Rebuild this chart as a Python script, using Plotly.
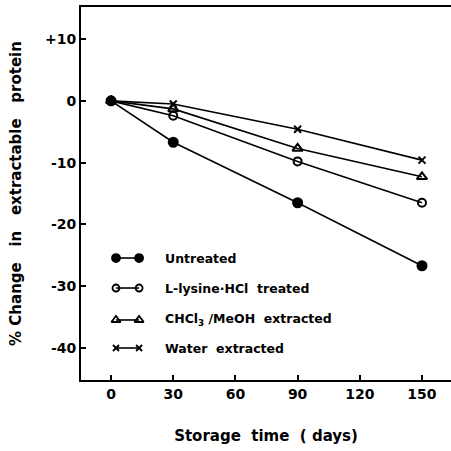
import plotly.graph_objects as go

# Storage days sampled and % change in extractable protein per treatment
days = [0, 30, 90, 150]
untreated = [0, -6.7, -16.5, -26.7]
lysine = [0, -2.4, -9.8, -16.5]
chcl3 = [0, -1.3, -7.7, -12.3]
water = [0, -0.5, -4.6, -9.6]

x_ticks = [0, 30, 60, 90, 120, 150]
y_ticks = [10, 0, -10, -20, -30, -40]
y_tick_text = ["+10", "0", "-10", "-20", "-30", "-40"]

SP = "\u00a0"
series = [
    ("Untreated", untreated, "circle", 9),
    (f"L-lysine·HCl{SP*2}treated", lysine, "circle-open", 8),
    (f"CHCl<sub>3</sub>{SP}/MeOH{SP*2}extracted", chcl3, "triangle-up-open", 9),
    (f"Water{SP*2}extracted", water, "x-thin-open", 7),
]

FONT = "DejaVu Sans"
fig = go.Figure()

for name, vals, sym, size in series:
    fig.add_trace(go.Scatter(
        x=days, y=vals, mode="lines+markers", name=name, showlegend=False,
        line=dict(color="black", width=1.6),
        marker=dict(symbol=sym, size=size, color="black",
                    line=dict(color="black", width=2)),
    ))

# Hand-drawn style key: marker–line–marker followed by the label
key_rows = [0.327, 0.2466, 0.1609, 0.0858]
key_x0, key_x1, key_text_x = 0.0946, 0.157, 0.2216
for (name, vals, sym, size), ky in zip(series, key_rows):
    fig.add_trace(go.Scatter(
        x=[key_x0, key_x1], y=[ky, ky], mode="lines+markers",
        xaxis="x2", yaxis="y2", showlegend=False, hoverinfo="skip",
        line=dict(color="black", width=1.6),
        marker=dict(symbol=sym, size=size - 1, color="black",
                    line=dict(color="black", width=1.8)),
    ))
    fig.add_annotation(x=key_text_x, y=ky, xref="x2", yref="y2", text=name,
                       showarrow=False, xanchor="left", yanchor="middle",
                       font=dict(family=FONT, size=12.5, color="black", weight="bold"))

fig.update_layout(
    width=451, height=451,
    margin=dict(l=81, r=0, t=7, b=71),
    paper_bgcolor="white", plot_bgcolor="white",
    font=dict(family=FONT, color="black"),
    xaxis=dict(
        range=[-14.5, 164], tickvals=x_ticks, ticktext=[str(v) for v in x_ticks],
        showgrid=False, zeroline=False, showline=True, mirror=True,
        linecolor="black", linewidth=2, ticks="inside", ticklen=5, tickwidth=1.5,
        tickcolor="black", tickfont=dict(size=14, family=FONT, weight="bold"),
        title=dict(text=f"Storage{SP*2}time{SP*2}({SP}days)",
                   font=dict(size=15, family=FONT, weight="bold"), standoff=30),
    ),
    yaxis=dict(
        range=[-45.2, 15.2], tickvals=y_ticks, ticktext=y_tick_text,
        showgrid=False, zeroline=False, showline=True,
        linecolor="black", linewidth=2, ticks="inside", ticklen=5, tickwidth=1.5,
        tickcolor="black", tickfont=dict(size=14, family=FONT, weight="bold"),
        title=dict(text=f"%{SP}Change{SP*3}in{SP*3}extractable{SP*3}protein",
                   font=dict(size=15, family=FONT, weight="bold"), standoff=20),
    ),
    xaxis2=dict(range=[0, 1], overlaying="x", visible=False, fixedrange=True),
    yaxis2=dict(range=[0, 1], overlaying="y", visible=False, fixedrange=True),
)

fig.write_html("out.html")
